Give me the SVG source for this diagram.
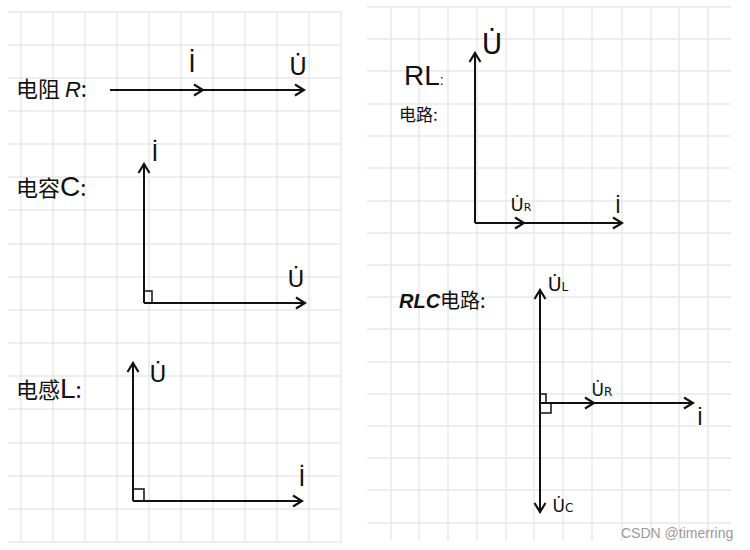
<svg xmlns="http://www.w3.org/2000/svg" width="750" height="550" viewBox="0 0 750 550">
<style>
.grid line{stroke:#e8e8e8;stroke-width:1.5}
.vec{stroke:#111;stroke-width:2;fill:none}
.sq{stroke:#111;stroke-width:1.5;fill:none}
.cn{font-family:"Noto Sans CJK SC","Noto Sans",sans-serif;fill:#111}
.lat{font-family:"Liberation Sans","Noto Sans CJK SC",sans-serif;fill:#111}
.lbl{font-family:"DejaVu Sans",sans-serif;fill:#111;text-anchor:middle}
.wm{font-family:"Liberation Sans",Arial,sans-serif;font-size:14px;fill:#9a9a9a}
</style>
<defs>
<marker id="ah" viewBox="0 0 14 14" refX="12" refY="7" markerWidth="14" markerHeight="14" markerUnits="userSpaceOnUse" orient="auto">
<path d="M3,1.5 L12,7 L3,12.5" stroke="#111" stroke-width="2.2" fill="none"/>
</marker>
</defs>
<rect width="750" height="550" fill="#fff"/>
<g id="grid-left" class="grid">
<line x1="8" y1="12" x2="342" y2="12"/><line x1="8" y1="45" x2="342" y2="45"/><line x1="8" y1="78" x2="342" y2="78"/><line x1="8" y1="111" x2="342" y2="111"/><line x1="8" y1="144" x2="342" y2="144"/><line x1="8" y1="177" x2="342" y2="177"/><line x1="8" y1="210" x2="342" y2="210"/><line x1="8" y1="244" x2="342" y2="244"/><line x1="8" y1="277" x2="342" y2="277"/><line x1="8" y1="310" x2="342" y2="310"/><line x1="8" y1="343" x2="342" y2="343"/><line x1="8" y1="376" x2="342" y2="376"/><line x1="8" y1="409" x2="342" y2="409"/><line x1="8" y1="443" x2="342" y2="443"/><line x1="8" y1="476" x2="342" y2="476"/><line x1="8" y1="509" x2="342" y2="509"/><line x1="8" y1="542" x2="342" y2="542"/>
<line x1="21" y1="12" x2="21" y2="542"/><line x1="53" y1="12" x2="53" y2="542"/><line x1="85" y1="12" x2="85" y2="542"/><line x1="117" y1="12" x2="117" y2="542"/><line x1="149" y1="12" x2="149" y2="542"/><line x1="181" y1="12" x2="181" y2="542"/><line x1="213" y1="12" x2="213" y2="542"/><line x1="245" y1="12" x2="245" y2="542"/><line x1="277" y1="12" x2="277" y2="542"/><line x1="309" y1="12" x2="309" y2="542"/><line x1="341" y1="12" x2="341" y2="542"/>
</g>
<g id="grid-right" class="grid">
<line x1="367" y1="7" x2="731" y2="7"/><line x1="367" y1="39" x2="731" y2="39"/><line x1="367" y1="71" x2="731" y2="71"/><line x1="367" y1="104" x2="731" y2="104"/><line x1="367" y1="136" x2="731" y2="136"/><line x1="367" y1="168" x2="731" y2="168"/><line x1="367" y1="201" x2="731" y2="201"/><line x1="367" y1="233" x2="731" y2="233"/><line x1="367" y1="265" x2="731" y2="265"/><line x1="367" y1="297" x2="731" y2="297"/><line x1="367" y1="329" x2="731" y2="329"/><line x1="367" y1="362" x2="731" y2="362"/><line x1="367" y1="394" x2="731" y2="394"/><line x1="367" y1="426" x2="731" y2="426"/><line x1="367" y1="458" x2="731" y2="458"/><line x1="367" y1="490" x2="731" y2="490"/><line x1="367" y1="523" x2="731" y2="523"/>
<line x1="391" y1="7" x2="391" y2="541"/><line x1="419" y1="7" x2="419" y2="541"/><line x1="448" y1="7" x2="448" y2="541"/><line x1="477" y1="7" x2="477" y2="541"/><line x1="506" y1="7" x2="506" y2="541"/><line x1="534" y1="7" x2="534" y2="541"/><line x1="563" y1="7" x2="563" y2="541"/><line x1="592" y1="7" x2="592" y2="541"/><line x1="622" y1="7" x2="622" y2="541"/><line x1="651" y1="7" x2="651" y2="541"/><line x1="679" y1="7" x2="679" y2="541"/><line x1="708" y1="7" x2="708" y2="541"/>
</g>
<g id="connectors">
<polyline class="vec" points="110,90 203,90 304,90" marker-mid="url(#ah)" marker-end="url(#ah)"/>
<polyline class="vec" points="144,303 144,164" marker-end="url(#ah)"/>
<polyline class="vec" points="144,303 305,303" marker-end="url(#ah)"/>
<polyline class="vec" points="133,501 133,363" marker-end="url(#ah)"/>
<polyline class="vec" points="133,501 302,501" marker-end="url(#ah)"/>
<polyline class="vec" points="475,223 475,53" marker-end="url(#ah)"/>
<polyline class="vec" points="475,223 524,223 622,223" marker-mid="url(#ah)" marker-end="url(#ah)"/>
<polyline class="vec" points="540,403 540,290" marker-end="url(#ah)"/>
<polyline class="vec" points="540,403 540,512" marker-end="url(#ah)"/>
<polyline class="vec" points="540,403 594,403 693,403" marker-mid="url(#ah)" marker-end="url(#ah)"/>
</g>
<g id="resistor">
<text class="cn" x="16" y="97" font-size="22">电阻 <tspan class="lat" font-style="italic">R</tspan>:</text>
<text class="lbl" x="192" y="72" font-size="24">İ</text>
<text class="lbl" x="298" y="75" font-size="24">U̇</text>
</g>
<g id="capacitor">
<text class="cn" x="16" y="196" font-size="22">电容<tspan class="lat" font-size="28">C</tspan>:</text>
<text class="lbl" x="155" y="161" font-size="23">İ</text>
<text class="lbl" x="296" y="287" font-size="23">U̇</text>
<path class="sq" d="M144,291 H152 V303"/>
</g>
<g id="inductor">
<text class="cn" x="16" y="398" font-size="22">电感<tspan class="lat" font-size="28">L</tspan>:</text>
<text class="lbl" x="158" y="382" font-size="23">U̇</text>
<text class="lbl" x="302" y="486" font-size="23">İ</text>
<path class="sq" d="M133,489 H144 V501"/>
</g>
<g id="rl-circuit">
<text class="lat" x="404" y="85" font-size="28">RL<tspan font-size="14">:</tspan></text>
<text class="cn" x="399" y="121" font-size="17">电路:</text>
<text class="lbl" x="492" y="54" font-size="28">U̇</text>
<text class="lbl" x="521" y="211" font-size="18">U̇<tspan font-size="11">R</tspan></text>
<text class="lbl" x="618" y="213" font-size="20">İ</text>
</g>
<g id="rlc-circuit">
<text class="cn" x="399" y="308" font-size="20"><tspan class="lat" font-style="italic" font-weight="bold">RLC</tspan>电路:</text>
<text class="lbl" x="558" y="291" font-size="19">U̇<tspan font-size="12">L</tspan></text>
<text class="lbl" x="602" y="396" font-size="17">U̇<tspan font-size="12">R</tspan></text>
<text class="lbl" x="700" y="425" font-size="20">İ</text>
<text class="lbl" x="563" y="512" font-size="17">U̇<tspan font-size="12">C</tspan></text>
<path class="sq" d="M540,394 H546 V403"/>
<path class="sq" d="M540,413 H551 V403"/>
</g>
<text class="wm" x="621" y="538">CSDN @timerring</text>
</svg>
